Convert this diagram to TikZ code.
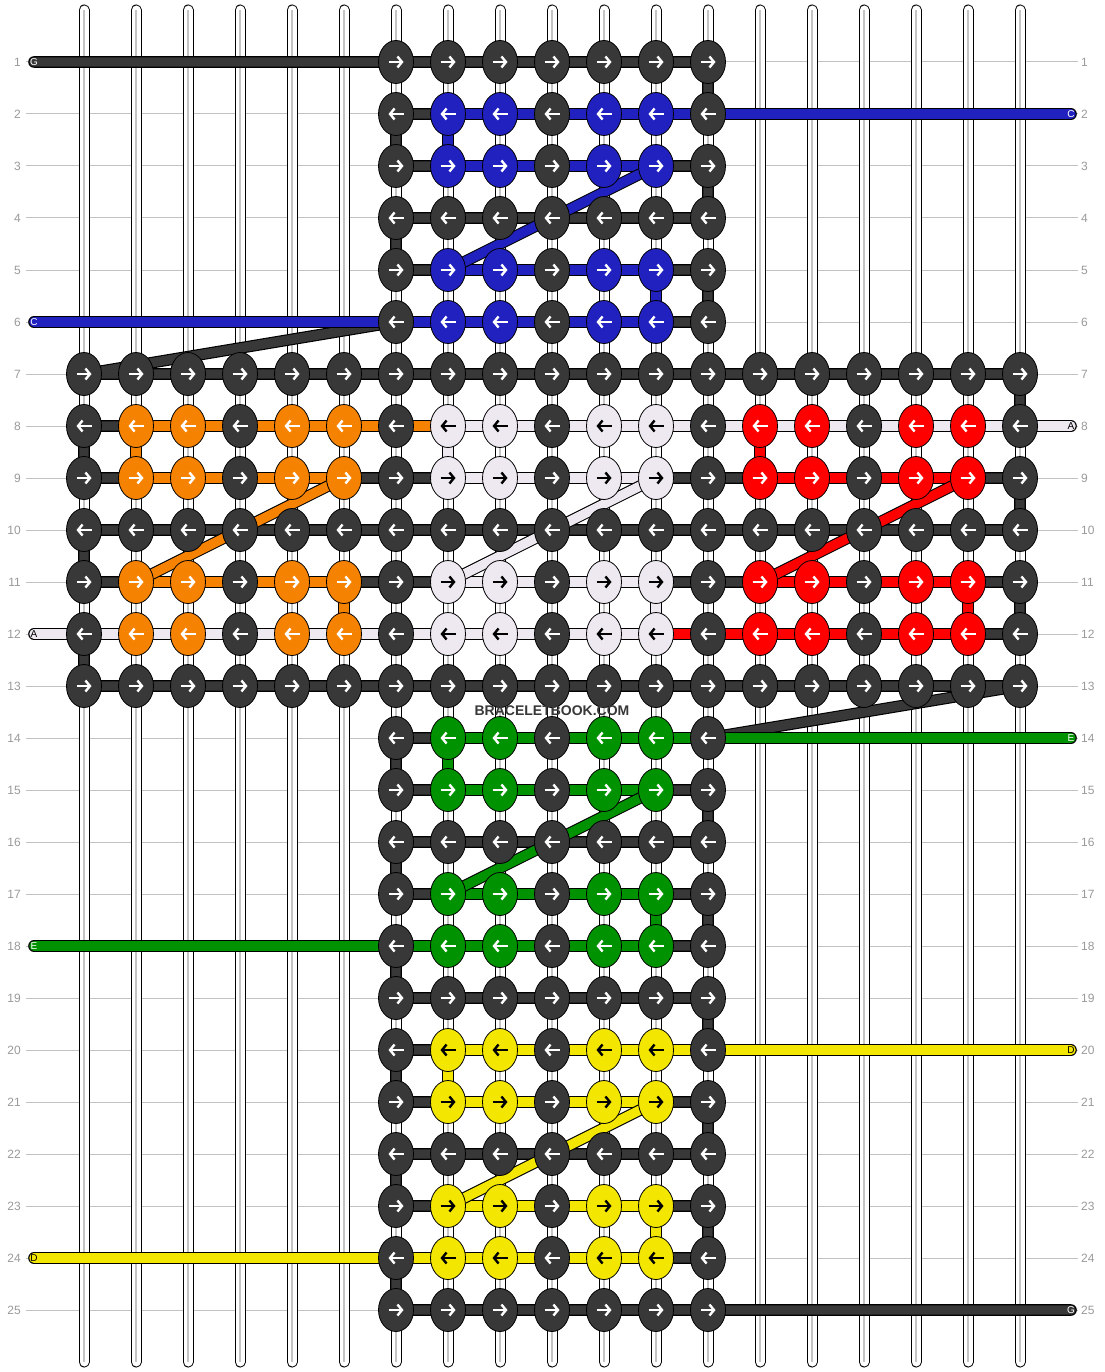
\documentclass[tikz,border=0pt]{standalone}
\usepackage{fontspec}
\setmainfont{Liberation Sans}
\usetikzlibrary{shapes.geometric,arrows.meta}

\definecolor{dk}{HTML}{383838}
\definecolor{blu}{HTML}{2121C0}
\definecolor{org}{HTML}{F58200}
\definecolor{wht}{HTML}{EEE8F0}
\definecolor{rd}{HTML}{FF0000}
\definecolor{grn}{HTML}{009200}
\definecolor{yel}{HTML}{F3E600}
\definecolor{numgray}{HTML}{9A9A9A}
\definecolor{gridgray}{HTML}{C2C2C2}
\definecolor{warpgray}{HTML}{C4C4C4}

\tikzset{
  knot/.style={ellipse, draw=black, line width=0.8pt, fill=#1,
    minimum width=35pt, minimum height=43pt, inner sep=0pt},
  strand/.style={line width=1.1pt, double=#1, double distance=9.4pt,
    line cap=round, line join=round},
  warp/.style={line width=1pt, double=white, double distance=9pt, line cap=round},
  warpcore/.style={line width=1.8pt, draw=warpgray},
  rowline/.style={line width=1pt, draw=gridgray},
  arw/.style={draw=#1, line width=2.4pt, -{Straight Barb[length=4.5pt,width=11pt]}},
  rownum/.style={text=numgray, font=\fontsize{12}{14}\selectfont, inner sep=0pt},
  endtag/.style={text=#1, font=\fontsize{10}{12}\selectfont, inner sep=0pt}
}

\begin{document}
\begin{tikzpicture}[x=1pt,y=-1pt]
  \fill[white] (0,0) rectangle (1104,1372);
  \useasboundingbox (0,0) rectangle (1104,1372);

  % rows: guide lines, numbers, knot positions
  \foreach \row in {1,...,25} {
    \coordinate (L-\row) at (34,{62+52*(\row-1)});
    \coordinate (R-\row) at (1071,{62+52*(\row-1)});
    \coordinate (gl-\row) at (26,{62+52*(\row-1)});
    \coordinate (gr-\row) at (1078,{62+52*(\row-1)});
    \draw[rowline] (gl-\row) -- (gr-\row);
    \node[rownum, anchor=east] (nl-\row) at (21,{62+52*(\row-1)}) {\row};
    \node[rownum, anchor=west] (nr-\row) at (1081,{62+52*(\row-1)}) {\row};
    \foreach \col in {1,...,19}
      \coordinate (p-\row-\col) at ({84+52*(\col-1)},{62+52*(\row-1)});
  }

  % vertical strings
  \foreach \col in {1,...,19} {
    \coordinate (t-\col) at ({84+52*(\col-1)},10);
    \coordinate (b-\col) at ({84+52*(\col-1)},1362);
    \draw[warp] (t-\col) -- (b-\col);
    \draw[warpcore] (t-\col) -- (b-\col);
  }

  % background string G
  \draw[strand=dk] (L-1) -- (p-1-7) -- (p-1-13) -- (p-2-13) -- (p-2-7) -- (p-3-7)
    -- (p-3-13) -- (p-4-13) -- (p-4-7) -- (p-5-7) -- (p-5-13) -- (p-6-13) -- (p-6-7)
    -- (p-7-1) -- (p-7-19) -- (p-8-19) -- (p-8-1) -- (p-9-1) -- (p-9-19) -- (p-10-19)
    -- (p-10-1) -- (p-11-1) -- (p-11-19) -- (p-12-19) -- (p-12-1) -- (p-13-1) -- (p-13-19)
    -- (p-14-13) -- (p-14-7) -- (p-15-7) -- (p-15-13) -- (p-16-13) -- (p-16-7) -- (p-17-7)
    -- (p-17-13) -- (p-18-13) -- (p-18-7) -- (p-19-7) -- (p-19-13) -- (p-20-13) -- (p-20-7)
    -- (p-21-7) -- (p-21-13) -- (p-22-13) -- (p-22-7) -- (p-23-7) -- (p-23-13) -- (p-24-13)
    -- (p-24-7) -- (p-25-7) -- (p-25-13) -- (R-25);

  % coloured strings, one per letter block
  \foreach \clr/\row/\bc/\src/\dst in {blu/2/7/R-2/L-6, org/8/1/p-8-8/p-12-6,
      rd/8/13/p-8-14/p-12-12, wht/8/7/R-8/L-12, grn/14/7/R-14/L-18, yel/20/7/R-20/L-24} {
    \pgfmathtruncatemacro\ra{\row+1}
    \pgfmathtruncatemacro\rc{\row+3}
    \pgfmathtruncatemacro\rd{\row+4}
    \pgfmathtruncatemacro\ka{\bc+1}
    \pgfmathtruncatemacro\ke{\bc+5}
    \draw[strand=\clr] (\src) -- (p-\row-\ka) -- (p-\ra-\ka) -- (p-\ra-\ke);
    \draw[strand=\clr] (p-\rc-\ka) -- (p-\rc-\ke) -- (p-\rd-\ke) -- (\dst);
    \draw[strand=\clr] (p-\ra-\ke) -- (p-\rc-\ka);
  }

  % knots
  \foreach \row in {1,...,25} {
    \pgfmathtruncatemacro\jlo{((\row>6)&&(\row<14)) ? 1 : 7}
    \pgfmathtruncatemacro\jhi{20-\jlo}
    \foreach \col in {\jlo,...,\jhi} {
      \pgfmathtruncatemacro\pat{(mod(\row-1,3)>0)&&(mod(\col-1,3)>0)}
      \pgfmathtruncatemacro\blk{int((\row-1)/6)}
      \pgfmathtruncatemacro\cb{int((\col-1)/6)}
      \def\kc{dk}\def\ac{white}
      \ifnum\pat=1
        \ifcase\blk \def\kc{blu}\or
          \ifcase\cb \def\kc{org}\or \def\kc{wht}\def\ac{black}\else \def\kc{rd}\fi
        \or \def\kc{grn}\else \def\kc{yel}\def\ac{black}\fi
      \fi
      \node[knot=\kc] (k-\row-\col) at (p-\row-\col) {};
      \ifodd\row
        \draw[arw=\ac] ([xshift=-7.5pt]k-\row-\col.center) -- ([xshift=7.5pt]k-\row-\col.center);
      \else
        \draw[arw=\ac] ([xshift=7.5pt]k-\row-\col.center) -- ([xshift=-7.5pt]k-\row-\col.center);
      \fi
    }
  }

  % string letters
  \foreach \lab/\side/\row/\tc in {G/L/1/white, C/R/2/white, C/L/6/white, A/R/8/black,
      A/L/12/black, E/R/14/white, E/L/18/white, D/R/20/black, D/L/24/black, G/R/25/white}
    \node[endtag=\tc] (tag-\side\row) at (\side-\row) {\lab};

  \node[font=\bfseries\fontsize{14}{16}\selectfont, text=dk] (brand) at (552,711) {BRACELETBOOK.COM};
\end{tikzpicture}
\end{document}
